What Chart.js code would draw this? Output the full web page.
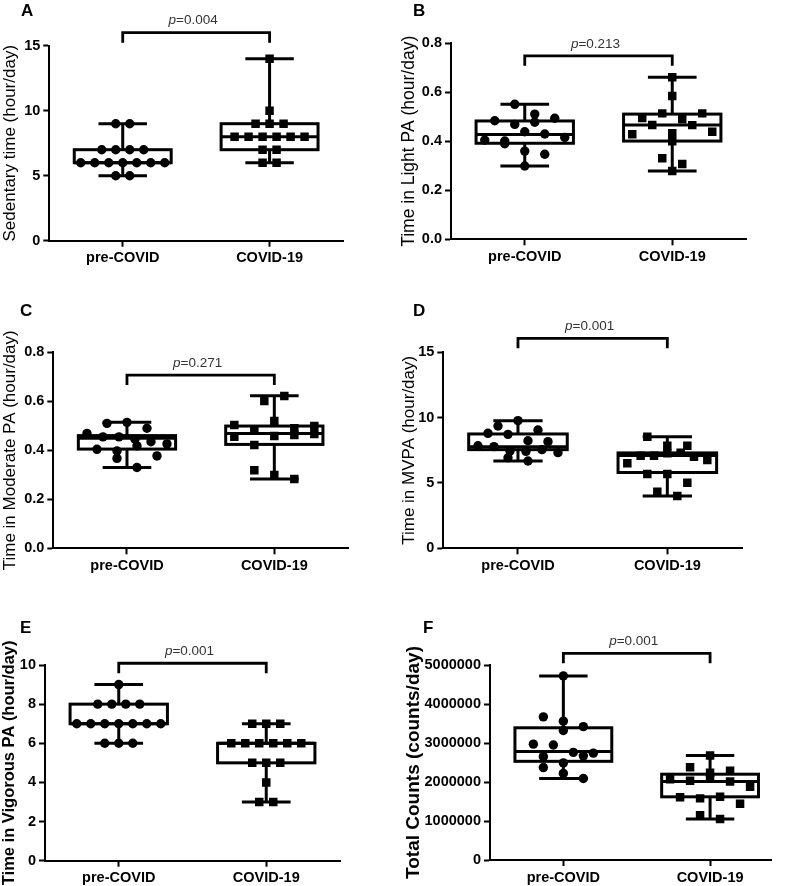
<!DOCTYPE html>
<html>
<head>
<meta charset="utf-8">
<script src="https://cdn.jsdelivr.net/npm/chart.js@4.4.0/dist/chart.umd.min.js"></script>
<style>
  body { margin: 0; background: #fff; }
  #fig { position: relative; width: 787px; height: 886px; }
  #fig canvas { position: absolute; }
  .tag { position: absolute; font: bold 17px "Liberation Sans", Arial, sans-serif; line-height: 17px; color: #000; }
</style>
</head>
<body>
<div id="fig">
  <canvas id="pA" width="390" height="290" style="left:0;top:0"></canvas>
  <canvas id="pB" width="397" height="290" style="left:390px;top:0"></canvas>
  <canvas id="pC" width="390" height="300" style="left:0;top:290px"></canvas>
  <canvas id="pD" width="397" height="300" style="left:390px;top:290px"></canvas>
  <canvas id="pE" width="390" height="296" style="left:0;top:590px"></canvas>
  <canvas id="pF" width="397" height="296" style="left:390px;top:590px"></canvas>
  <div class="tag" style="left:21px;top:2px">A</div>
  <div class="tag" style="left:413px;top:2px">B</div>
  <div class="tag" style="left:20px;top:302px">C</div>
  <div class="tag" style="left:413px;top:302px">D</div>
  <div class="tag" style="left:20px;top:619px">E</div>
  <div class="tag" style="left:423px;top:619px">F</div>
</div>
<script>
const groups = ['pre-COVID', 'COVID-19'];

// A - sedentary time (hour/day)
const sedentaryPre = [9, 9, 7, 7, 7, 7, 6, 6, 6, 6, 6, 6, 6, 5, 5];
const sedentaryCovid = [14, 10, 9, 9, 9, 8, 8, 8, 8, 8, 8, 7, 7, 6, 6];
// box stats: min, q1, median, q3, max
const sedentaryBox = [[5, 6, 6, 7, 9], [6, 7, 8, 9, 14]];

// B - light PA
const lightPre = [0.551, 0.511, 0.484, 0.469, 0.478, 0.494, 0.405, 0.401, 0.439, 0.430, 0.416, 0.390, 0.360, 0.347, 0.299];
const lightCovid = [0.661, 0.585, 0.495, 0.514, 0.490, 0.514, 0.429, 0.467, 0.433, 0.466, 0.439, 0.400, 0.331, 0.307, 0.279];
const lightBox = [[0.299, 0.392, 0.428, 0.483, 0.551], [0.279, 0.401, 0.467, 0.511, 0.661]];

// C - moderate PA
const moderatePre = [0.510, 0.514, 0.490, 0.469, 0.455, 0.455, 0.445, 0.435, 0.426, 0.404, 0.397, 0.418, 0.377, 0.367, 0.330];
const moderateCovid = [0.503, 0.455, 0.483, 0.601, 0.422, 0.520, 0.490, 0.622, 0.458, 0.499, 0.462, 0.466, 0.319, 0.299, 0.283];
const moderateBox = [[0.330, 0.405, 0.449, 0.460, 0.514], [0.283, 0.424, 0.469, 0.499, 0.623]];

// D - MVPA
const mvpaPre = [9.36, 9.77, 8.80, 8.72, 9.05, 8.23, 8.16, 7.85, 7.78, 7.44, 7.42, 7.55, 7.32, 6.93, 6.68];
const mvpaCovid = [8.54, 7.85, 7.85, 6.50, 7.09, 7.09, 7.27, 7.32, 7.01, 6.76, 5.68, 5.68, 5.02, 4.33, 4.00];
const mvpaBox = [[6.68, 7.55, 7.78, 8.75, 9.77], [4.00, 5.80, 7.10, 7.30, 8.54]];

// E - vigorous PA
const vigorousPre = [9, 8, 8, 8, 8, 7, 7, 7, 7, 7, 7, 7, 6, 6, 6];
const vigorousCovid = [7, 7, 7, 6, 6, 6, 6, 6, 6, 5, 5, 5, 4, 3, 3];
const vigorousBox = [[6, 7, 7, 8, 9], [3, 5, 6, 6, 7]];

// F - total counts (counts/day)
const countsPre = [4720000, 3670000, 3560000, 3420000, 3320000, 2970000, 2950000, 2650000, 2490000, 2670000, 2760000, 2740000, 2370000, 2220000, 2090000];
const countsCovid = [2680000, 2380000, 2240000, 2290000, 2070000, 2030000, 2090000, 2010000, 1880000, 1610000, 1580000, 1620000, 1440000, 1150000, 1050000];
const countsBox = [[2090000, 2530000, 2780000, 3390000, 4720000], [1050000, 1620000, 2010000, 2200000, 2680000]];

const pValues = ['0.004', '0.213', '0.271', '0.001', '0.001', '0.001'];
const bracketLevels = [16, 0.749, 0.707, 16.07, 10.09, 5300000];

const FONT = '"Liberation Sans", Arial, sans-serif';

const panels = [
  { id: 'pA', pre: sedentaryPre, covid: sedentaryCovid, box: sedentaryBox, title: 'Sedentary time (hour/day)',
    titleFont: { size: 17 }, yMax: 15, step: 5, dec: 0, xMax: 2.5,
    area: { l: 49.3, r: 343, t: 45.7, b: 240.7 }, padL: 0 },
  { id: 'pB', pre: lightPre, covid: lightCovid, box: lightBox, title: 'Time in Light PA (hour/day)',
    titleFont: { size: 17.5 }, yMax: 0.8, step: 0.2, dec: 1, xMax: 2.5,
    area: { l: 61, r: 356, t: 43.3, b: 239.3 }, padL: 9 },
  { id: 'pC', pre: moderatePre, covid: moderateCovid, box: moderateBox, title: 'Time in Moderate PA (hour/day)',
    titleFont: { size: 17 }, yMax: 0.8, step: 0.2, dec: 1, xMax: 2.5,
    area: { l: 53.3, r: 348, t: 62.3, b: 258.3 }, padL: 0 },
  { id: 'pD', pre: mvpaPre, covid: mvpaCovid, box: mvpaBox, title: 'Time in MVPA (hour/day)',
    titleFont: { size: 17 }, yMax: 15, step: 5, dec: 0, xMax: 2.5,
    area: { l: 53.3, r: 352, t: 62.3, b: 258.3 }, padL: 9 },
  { id: 'pE', pre: vigorousPre, covid: vigorousCovid, box: vigorousBox, title: 'Time in Vigorous PA (hour/day)',
    titleFont: { size: 16.5, weight: 'bold' }, yMax: 10, step: 2, dec: 0, xMax: 2.5,
    area: { l: 45, r: 340, t: 75, b: 270.7 }, padL: 0 },
  { id: 'pF', pre: countsPre, covid: countsCovid, box: countsBox, title: 'Total Counts (counts/day)',
    titleFont: { size: 19, weight: 'bold' }, yMax: 5000000, step: 1000000, dec: 0, xMax: 2.42,
    area: { l: 100, r: 381.7, t: 75, b: 270 }, padL: 12 }
];

// box, whiskers, bracket and p label
const boxPlugin = {
  id: 'boxes',
  beforeDatasetsDraw(chart, args, opts) {
    const { ctx } = chart;
    const x = chart.scales.x, y = chart.scales.y;
    ctx.save();
    ctx.strokeStyle = '#000';
    ctx.lineWidth = 3;
    const seg = (x1, y1, x2, y2) => { ctx.beginPath(); ctx.moveTo(x1, y1); ctx.lineTo(x2, y2); ctx.stroke(); };
    opts.stats.forEach((s, i) => {
      const cx = x.getPixelForValue(i + 1);
      const half = x.getPixelForValue(i + 1.33) - cx;
      const cap = half / 2;
      const [mn, q1, md, q3, mx] = s.map(v => y.getPixelForValue(v));
      seg(cx, q3, cx, mx);
      seg(cx, q1, cx, mn);
      seg(cx - cap, mx, cx + cap, mx);
      seg(cx - cap, mn, cx + cap, mn);
      ctx.strokeRect(cx - half, q3, 2 * half, q1 - q3);
      seg(cx - half, md, cx + half, md);
    });
    ctx.restore();
  },
  afterDraw(chart, args, opts) {
    const { ctx } = chart;
    const x = chart.scales.x, y = chart.scales.y;
    const x1 = x.getPixelForValue(1), x2 = x.getPixelForValue(2);
    const by = y.getPixelForValue(opts.bracket);
    ctx.save();
    ctx.strokeStyle = '#000';
    ctx.lineWidth = 2.8;
    ctx.beginPath();
    ctx.moveTo(x1, by + 10);
    ctx.lineTo(x1, by);
    ctx.lineTo(x2, by);
    ctx.lineTo(x2, by + 10);
    ctx.stroke();
    // p label: italic p then the value
    ctx.fillStyle = '#333';
    ctx.textBaseline = 'middle';
    const it = 'italic 13.5px ' + FONT, rg = '13.5px ' + FONT;
    const rest = '=' + opts.p;
    ctx.font = it; const w1 = ctx.measureText('p').width;
    ctx.font = rg; const w2 = ctx.measureText(rest).width;
    const sx = (x1 + x2) / 2 - (w1 + w2) / 2 - 3;
    ctx.font = it; ctx.fillText('p', sx, by - 12);
    ctx.font = rg; ctx.fillText(rest, sx + w1, by - 12);
    ctx.restore();
  }
};

// lay points of similar value side by side, centred on the group
function spread(values, group, chart) {
  const x = chart.scales.x, y = chart.scales.y;
  const px = values.map(v => y.getPixelForValue(v));
  const unit = x.getPixelForValue(2) - x.getPixelForValue(1);
  const order = values.map((v, i) => i).sort((a, b) => values[b] - values[a] || a - b);
  const rows = [];
  let row = null;
  order.forEach(i => {
    if (!row || px[i] - px[row[0]] >= 11) { row = [i]; rows.push(row); }
    else row.push(i);
  });
  const out = new Array(values.length);
  rows.forEach(r => {
    r.sort((a, b) => a - b);
    const same = r.every(i => values[i] === values[r[0]]);
    const gap = same ? 14 : Math.min(20, 80 / Math.max(1, r.length - 1));
    r.forEach((i, k) => {
      out[i] = { x: group + (k - (r.length - 1) / 2) * gap / unit, y: values[i] };
    });
  });
  return out;
}

panels.forEach((p, idx) => {
  const canvas = document.getElementById(p.id);
  const W = canvas.width, H = canvas.height;
  const axisFont = { family: FONT, size: 14.5, weight: 'bold' };
  const chart = new Chart(canvas, {
    type: 'scatter',
    data: {
      datasets: [
        { label: groups[0], data: p.pre.map(v => ({ x: 1, y: v })), pointStyle: 'circle',
          pointRadius: 4.7, backgroundColor: '#000', borderColor: '#000', borderWidth: 0 },
        { label: groups[1], data: p.covid.map(v => ({ x: 2, y: v })), pointStyle: 'rect',
          pointRadius: 6, backgroundColor: '#000', borderColor: '#000', borderWidth: 0 }
      ]
    },
    options: {
      responsive: false,
      animation: false,
      devicePixelRatio: 1,
      layout: { padding: { left: p.padL, top: p.area.t, right: W - p.area.r, bottom: 0 } },
      plugins: {
        legend: { display: false },
        tooltip: { enabled: false },
        boxes: { stats: p.box, bracket: bracketLevels[idx], p: pValues[idx] }
      },
      scales: {
        x: {
          type: 'linear', min: 0.5, max: p.xMax,
          afterFit: s => { s.height = H - p.area.b; },
          afterBuildTicks: s => { s.ticks = [{ value: 1 }, { value: 2 }]; },
          ticks: { color: '#000', font: axisFont, padding: 3, autoSkip: false, maxRotation: 0,
                   callback: v => groups[v - 1] },
          grid: { drawOnChartArea: false, drawTicks: true, tickLength: 6, tickWidth: 2, tickColor: '#000' },
          border: { display: true, color: '#000', width: 2 }
        },
        y: {
          min: 0, max: p.yMax,
          afterFit: s => { s.width = p.area.l - p.padL; },
          ticks: { stepSize: p.step, color: '#000', font: axisFont, padding: 3,
                   callback: v => p.dec ? v.toFixed(p.dec) : String(Math.round(v)) },
          grid: { drawOnChartArea: false, drawTicks: true, tickLength: 6, tickWidth: 2, tickColor: '#000' },
          border: { display: true, color: '#000', width: 2 },
          title: { display: true, text: p.title, color: '#000', padding: 0,
                   font: Object.assign({ family: FONT, weight: 'normal' }, p.titleFont) }
        }
      }
    },
    plugins: [boxPlugin]
  });
  chart.data.datasets[0].data = spread(p.pre, 1, chart);
  chart.data.datasets[1].data = spread(p.covid, 2, chart);
  chart.update('none');
});
</script>
</body>
</html>
